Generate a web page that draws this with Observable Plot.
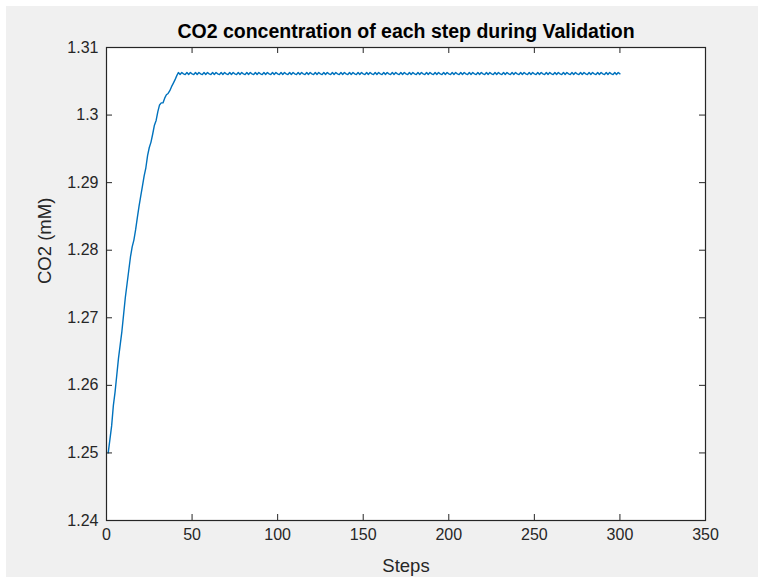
<!DOCTYPE html>
<html>
<head>
<meta charset="utf-8">
<script src="https://cdn.jsdelivr.net/npm/d3@7"></script>
<script src="https://cdn.jsdelivr.net/npm/@observablehq/plot@0.6"></script>
<style>
  html, body { margin: 0; padding: 0; background: #ffffff; }
  #fig { position: relative; width: 764px; height: 577px; overflow: hidden; }
  #bg { position: absolute; left: 6px; top: 6px; right: 6px; bottom: 0; background: #f0f0f0; }
  #chart { position: absolute; left: 0; top: 0; }
  #chart svg { background: transparent !important; }
</style>
</head>
<body>
<div id="fig"><div id="bg"></div><div id="chart"></div></div>
<script>
// CO2 concentration (mM) recorded at each validation step (step 1 .. 300)
const co2 = [
  1.2500, 1.2520, 1.2540, 1.2570, 1.2590, 1.2615, 1.2640, 1.2660, 1.2680, 1.2705,
  1.2730, 1.2750, 1.2770, 1.2790, 1.2805, 1.2815, 1.2830, 1.2848, 1.2865, 1.2880,
  1.2895, 1.2910, 1.2922, 1.2940, 1.2952, 1.2960, 1.2972, 1.2985, 1.2992, 1.3005,
  1.3015, 1.3018, 1.3018, 1.3025, 1.3030, 1.3032, 1.3036, 1.3042, 1.3047, 1.3052,
  1.3058, 1.3063,
  1.3060, 1.3063, 1.3061, 1.3060, 1.3063, 1.3060, 1.3063, 1.3061, 1.3060, 1.3063,
  1.3060, 1.3063, 1.3061, 1.3060, 1.3063, 1.3060, 1.3063, 1.3061, 1.3060, 1.3063,
  1.3060, 1.3063, 1.3061, 1.3060, 1.3063, 1.3060, 1.3063, 1.3061, 1.3060, 1.3063,
  1.3060, 1.3063, 1.3061, 1.3060, 1.3063, 1.3060, 1.3063, 1.3061, 1.3060, 1.3063,
  1.3060, 1.3063, 1.3061, 1.3060, 1.3063, 1.3060, 1.3063, 1.3061, 1.3060, 1.3063,
  1.3060, 1.3063, 1.3061, 1.3060, 1.3063, 1.3060, 1.3063, 1.3061, 1.3060, 1.3063,
  1.3060, 1.3063, 1.3061, 1.3060, 1.3063, 1.3060, 1.3063, 1.3061, 1.3060, 1.3063,
  1.3060, 1.3063, 1.3061, 1.3060, 1.3063, 1.3060, 1.3063, 1.3061, 1.3060, 1.3063,
  1.3060, 1.3063, 1.3061, 1.3060, 1.3063, 1.3060, 1.3063, 1.3061, 1.3060, 1.3063,
  1.3060, 1.3063, 1.3061, 1.3060, 1.3063, 1.3060, 1.3063, 1.3061, 1.3060, 1.3063,
  1.3060, 1.3063, 1.3061, 1.3060, 1.3063, 1.3060, 1.3063, 1.3061, 1.3060, 1.3063,
  1.3060, 1.3063, 1.3061, 1.3060, 1.3063, 1.3060, 1.3063, 1.3061, 1.3060, 1.3063,
  1.3060, 1.3063, 1.3061, 1.3060, 1.3063, 1.3060, 1.3063, 1.3061, 1.3060, 1.3063,
  1.3060, 1.3063, 1.3061, 1.3060, 1.3063, 1.3060, 1.3063, 1.3061, 1.3060, 1.3063,
  1.3060, 1.3063, 1.3061, 1.3060, 1.3063, 1.3060, 1.3063, 1.3061, 1.3060, 1.3063,
  1.3060, 1.3063, 1.3061, 1.3060, 1.3063, 1.3060, 1.3063, 1.3061, 1.3060, 1.3063,
  1.3060, 1.3063, 1.3061, 1.3060, 1.3063, 1.3060, 1.3063, 1.3061, 1.3060, 1.3063,
  1.3060, 1.3063, 1.3061, 1.3060, 1.3063, 1.3060, 1.3063, 1.3061, 1.3060, 1.3063,
  1.3060, 1.3063, 1.3061, 1.3060, 1.3063, 1.3060, 1.3063, 1.3061, 1.3060, 1.3063,
  1.3060, 1.3063, 1.3061, 1.3060, 1.3063, 1.3060, 1.3063, 1.3061, 1.3060, 1.3063,
  1.3060, 1.3063, 1.3061, 1.3060, 1.3063, 1.3060, 1.3063, 1.3061, 1.3060, 1.3063,
  1.3060, 1.3063, 1.3061, 1.3060, 1.3063, 1.3060, 1.3063, 1.3061, 1.3060, 1.3063,
  1.3060, 1.3063, 1.3061, 1.3060, 1.3063, 1.3060, 1.3063, 1.3061, 1.3060, 1.3063,
  1.3060, 1.3063, 1.3061, 1.3060, 1.3063, 1.3060, 1.3063, 1.3061, 1.3060, 1.3063,
  1.3060, 1.3063, 1.3061, 1.3060, 1.3063, 1.3060, 1.3063, 1.3061, 1.3060, 1.3063,
  1.3060, 1.3063, 1.3061, 1.3060, 1.3063, 1.3060, 1.3063, 1.3061
];

const xTicks = [0, 50, 100, 150, 200, 250, 300, 350];
const yTicks = [1.24, 1.25, 1.26, 1.27, 1.28, 1.29, 1.30, 1.31];
const yTickLabels = ["1.24", "1.25", "1.26", "1.27", "1.28", "1.29", "1.3", "1.31"];

const titleText = "CO2 concentration of each step during Validation";
const xLabel = "Steps";
const yLabel = "CO2 (mM)";

const data = co2.map((v, i) => ({step: i + 1, co2: v}));

const W = 764, H = 577;
const mLeft = 106, mRight = 59, mTop = 47, mBottom = 57;
const frameW = W - mLeft - mRight;
const frameH = H - mTop - mBottom;
const tickLen = 6;
const ink = "#262626";
const font = "'Liberation Sans', Arial, Helvetica, sans-serif";

const chart = Plot.plot({
  width: W,
  height: H,
  marginLeft: mLeft,
  marginRight: mRight,
  marginTop: mTop,
  marginBottom: mBottom,
  style: {fontFamily: font, color: ink, background: "transparent", overflow: "visible"},
  x: {domain: [0, 350], label: null},
  y: {domain: [1.24, 1.31], label: null},
  marks: [
    Plot.frame({fill: "white", stroke: "none"}),
    Plot.line(data, {x: "step", y: "co2", stroke: "#0072BD", strokeWidth: 1.4}),
    // inward tick marks on all four sides of the box
    Plot.tickX(xTicks, {x: d => d, insetTop: frameH - tickLen, stroke: ink, strokeWidth: 1}),
    Plot.tickX(xTicks, {x: d => d, insetBottom: frameH - tickLen, stroke: ink, strokeWidth: 1}),
    Plot.tickY(yTicks, {y: d => d, insetRight: frameW - tickLen, stroke: ink, strokeWidth: 1}),
    Plot.tickY(yTicks, {y: d => d, insetLeft: frameW - tickLen, stroke: ink, strokeWidth: 1}),
    Plot.frame({stroke: ink, strokeWidth: 1.2}),
    Plot.axisX(xTicks, {anchor: "bottom", tickSize: 0, tickPadding: 8, fontSize: 16, label: null, fill: ink}),
    Plot.axisY(yTicks, {anchor: "left", tickSize: 0, tickPadding: 8, fontSize: 16, label: null, fill: ink,
      tickFormat: d => yTickLabels[yTicks.indexOf(d)]}),
    Plot.text([titleText], {frameAnchor: "top", lineAnchor: "middle", dy: -16, fontSize: 19.5, fontWeight: "bold", fill: "#000"}),
    Plot.text([xLabel], {frameAnchor: "bottom", lineAnchor: "middle", dy: 46, fontSize: 18.5, fill: ink}),
    Plot.text([yLabel], {frameAnchor: "left", dx: -61, rotate: -90, fontSize: 18.5, fill: ink})
  ]
});

document.getElementById("chart").appendChild(chart);
</script>
</body>
</html>
